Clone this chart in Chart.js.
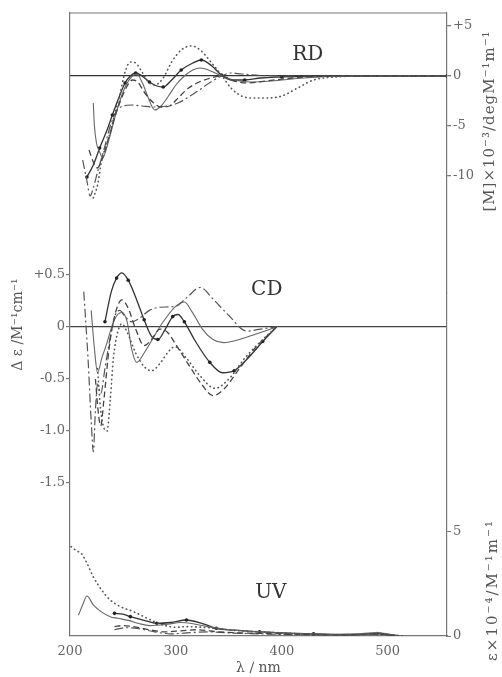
<!DOCTYPE html>
<html>
<head>
<meta charset="utf-8">
<script src="https://cdn.jsdelivr.net/npm/chart.js@4.4.1/dist/chart.umd.min.js"></script>
<style>
  html, body { margin: 0; padding: 0; background: #fff; }
  #wrap { position: relative; width: 502px; height: 677px; }
</style>
</head>
<body>
<div id="wrap"><canvas id="chart"></canvas></div>
<script>
// tick values
const xTicks = [200, 300, 400, 500];
const rdTicks = [5, 0, -5, -10];
const cdTicks = [0.5, 0, -0.5, -1.0, -1.5];
const uvTicks = [0, 5];

// RD: [M] x 10^-3 (wavelength nm, value)
const rdDotted = [[222,-12.2],[226,-10.9],[230,-8.4],[236,-6.4],[242,-3.9],[247,-1.9],[252,0.4],[257,1.4],[262,1.3],[268,0.4],[274,-0.6],[280,-0.9],[288,-0.2],[296,1.4],[305,2.6],[315,3.0],[323,2.6],[333,1.4],[343,0.1],[352,-1.2],[362,-2.0],[372,-2.2],[385,-2.2],[400,-2.0],[415,-1.2],[430,-0.4],[450,-0.1],[480,0],[556,0]];
const rdDotLine = [[216,-10.1],[222,-8.9],[228,-7.2],[235,-5.4],[240,-3.9],[246,-2.2],[252,-0.7],[257,0],[262,0.3],[268,0],[275,-0.6],[282,-1.0],[288,-1.1],[296,-0.4],[305,0.6],[316,1.3],[324,1.6],[334,1.0],[343,0.1],[352,-0.4],[365,-0.4],[380,-0.2],[400,-0.1],[430,0],[556,0]];
const rdSolid = [[222,-2.7],[223,-4.9],[225,-6.7],[228,-7.6],[231,-8.2],[234,-7.4],[238,-5.9],[243,-3.9],[248,-2.2],[253,-0.9],[258,-0.1],[263,0.2],[268,-0.6],[274,-2.2],[280,-3.4],[286,-3.0],[293,-2.0],[300,-0.9],[308,0.0],[316,0.6],[323,0.8],[333,0.5],[343,0],[355,-0.4],[370,-0.6],[390,-0.5],[420,-0.2],[460,0],[556,0]];
const rdDashed = [[218,-7.4],[222,-8.6],[226,-9.2],[230,-8.4],[236,-6.4],[242,-4.2],[248,-2.4],[254,-1.0],[259,-0.4],[264,-0.6],[270,-1.6],[278,-2.6],[286,-3.1],[294,-3.0],[302,-2.2],[312,-1.2],[322,-0.6],[333,-0.2],[343,0],[355,-0.5],[368,-0.7],[385,-0.5],[410,-0.2],[450,0],[556,0]];
const rdDashDot = [[212,-8.4],[216,-10.5],[219,-12.0],[222,-11.2],[226,-9.6],[232,-7.4],[238,-5.0],[244,-3.5],[250,-3.0],[258,-2.9],[268,-3.0],[280,-3.1],[292,-3.0],[302,-2.7],[312,-2.1],[322,-1.4],[333,-0.6],[343,0],[352,0.3],[362,0.2],[380,0.05],[420,0],[556,0]];

// CD: delta epsilon
const cdDotted = [[226,-0.4],[229,-0.8],[232,-0.97],[235,-1.0],[238,-0.7],[241,-0.3],[245,-0.05],[249,0.03],[254,-0.05],[262,-0.25],[270,-0.38],[277,-0.42],[285,-0.35],[292,-0.25],[299,-0.19],[310,-0.3],[322,-0.46],[337,-0.59],[350,-0.5],[365,-0.3],[380,-0.14],[395,0]];
const cdDotLine = [[233,0.05],[239,0.34],[244,0.47],[249,0.52],[255,0.45],[263,0.26],[270,0.07],[277,-0.09],[283,-0.12],[290,-0.02],[297,0.1],[302,0.12],[308,0.05],[318,-0.13],[332,-0.34],[344,-0.44],[355,-0.42],[368,-0.3],[382,-0.14],[395,0]];
const cdSolid = [[220,0.16],[223,-0.2],[226,-0.44],[230,-0.3],[235,-0.15],[240,0.02],[245,0.12],[249,0.14],[254,0.05],[258,-0.2],[263,-0.34],[270,-0.25],[280,-0.08],[288,0.05],[300,0.2],[308,0.24],[315,0.15],[325,-0.02],[335,-0.12],[345,-0.15],[360,-0.12],[375,-0.07],[395,0]];
const cdDashed = [[224,-0.5],[227,-0.85],[229,-0.95],[232,-0.7],[237,-0.2],[242,0.1],[249,0.26],[255,0.18],[262,-0.02],[270,-0.18],[277,-0.12],[285,-0.02],[292,-0.05],[300,-0.17],[315,-0.41],[325,-0.56],[335,-0.66],[345,-0.6],[360,-0.4],[375,-0.2],[395,0]];
const cdDashDot = [[213,0.34],[217,-0.3],[220,-0.9],[222,-1.2],[224,-0.8],[226,-0.55],[229,-0.64],[233,-0.4],[238,-0.1],[243,0.12],[247,0.16],[252,0.1],[258,0.05],[265,0.08],[275,0.16],[285,0.19],[300,0.2],[310,0.28],[323,0.38],[335,0.27],[350,0.11],[367,-0.04],[380,-0.02],[395,0]];

// UV: epsilon x 10^-4
const uvDotted = [[201,4.3],[206,4.1],[211,3.95],[216,3.5],[222,2.85],[230,2.2],[238,1.73],[248,1.4],[260,1.17],[275,0.8],[290,0.5],[300,0.42],[310,0.45],[325,0.42],[340,0.35],[360,0.25],[380,0.2],[400,0.15],[420,0.1],[440,0.08],[460,0.06],[480,0.08],[490,0.12],[500,0.08],[515,0]];
const uvSolid = [[208,1.0],[212,1.5],[216,1.92],[222,1.5],[230,1.15],[238,0.93],[245,0.85],[255,0.75],[265,0.6],[275,0.5],[290,0.55],[305,0.65],[315,0.6],[330,0.45],[350,0.3],[370,0.22],[390,0.18],[410,0.12],[430,0.1],[450,0.08],[470,0.1],[490,0.16],[500,0.1],[512,0]];
const uvDotLine = [[242,1.09],[250,1.05],[257,0.93],[270,0.75],[282,0.61],[295,0.65],[310,0.77],[325,0.6],[338,0.37],[355,0.28],[379,0.2],[400,0.15],[430,0.1],[460,0.06],[490,0.12],[510,0]];
const uvDashed = [[242,0.45],[250,0.5],[260,0.45],[275,0.3],[290,0.2],[305,0.25],[320,0.3],[340,0.2],[360,0.15],[390,0.12],[420,0.08],[460,0.05],[490,0.1],[510,0]];
const uvDashDot = [[242,0.3],[252,0.4],[265,0.35],[280,0.2],[295,0.1],[310,0.15],[330,0.2],[350,0.15],[380,0.1],[420,0.06],[460,0.04],[490,0.08],[505,0]];

const SERIF = "'DejaVu Serif', 'Liberation Serif', serif";

const styles = {
  dotted:  { borderColor: '#555', borderWidth: 1.6, borderDash: [0.5, 3.8], borderCapStyle: 'round' },
  dashed:  { borderColor: '#444', borderWidth: 1.3, borderDash: [6, 3.5] },
  dashdot: { borderColor: '#555', borderWidth: 1.2, borderDash: [9, 3, 2, 3] },
  solid:   { borderColor: '#666', borderWidth: 1.1, borderDash: [] },
  dotline: { borderColor: '#333', borderWidth: 1.3, borderDash: [],
             pointRadius: c => (c.dataIndex % 2 ? 0 : 1.8), pointBackgroundColor: '#222', pointBorderWidth: 0 }
};

function series(points, axis, style) {
  return Object.assign({
    data: points.map(p => ({ x: p[0], y: p[1] })),
    yAxisID: axis,
    pointRadius: 0,
    fill: false,
    cubicInterpolationMode: 'monotone'
  }, styles[style]);
}

const datasets = [
  series(rdDotted, 'yRD', 'dotted'),
  series(rdDashed, 'yRD', 'dashed'),
  series(rdDashDot, 'yRD', 'dashdot'),
  series(rdSolid, 'yRD', 'solid'),
  series(rdDotLine, 'yRD', 'dotline'),
  series(cdDotted, 'yCD', 'dotted'),
  series(cdDashed, 'yCD', 'dashed'),
  series(cdDashDot, 'yCD', 'dashdot'),
  series(cdSolid, 'yCD', 'solid'),
  series(cdDotLine, 'yCD', 'dotline'),
  series(uvDotted, 'yUV', 'dotted'),
  series(uvDashed, 'yUV', 'dashed'),
  series(uvDashDot, 'yUV', 'dashdot'),
  series(uvSolid, 'yUV', 'solid'),
  series(uvDotLine, 'yUV', 'dotline')
];

const tickFont = { family: SERIF, size: 13 };
const fixTicks = vals => scale => { scale.ticks = vals.map(v => ({ value: v })); };
const signed = (v, digits) => (v > 0 ? '+' : '') + (v === 0 ? '0' : v.toFixed(digits));
const zeroGrid = color => c => (c.tick && c.tick.value === 0 ? color : 'rgba(0,0,0,0)');

// panel names and right-hand axis titles
const decor = {
  id: 'decor',
  afterDraw(chart) {
    const { ctx, chartArea: a, scales } = chart;
    ctx.save();
    ctx.strokeStyle = '#777';
    ctx.lineWidth = 1.2;
    ctx.beginPath();
    ctx.moveTo(a.left, a.top);
    ctx.lineTo(a.right, a.top);
    ctx.stroke();

    ctx.fillStyle = '#333';
    ctx.font = '20px ' + SERIF;
    ctx.textAlign = 'center';
    ctx.textBaseline = 'middle';
    const x = scales.x;
    ctx.fillText('RD', x.getPixelForValue(424.5), scales.yRD.getPixelForValue(2.1));
    ctx.fillText('CD', x.getPixelForValue(385.8), scales.yCD.getPixelForValue(0.356));
    ctx.fillText('UV', x.getPixelForValue(389.6), scales.yUV.getPixelForValue(2.07));

    ctx.fillStyle = '#555';
    ctx.font = '15px ' + SERIF;
    const side = (text, cx, cy, spacing) => {
      ctx.save();
      ctx.letterSpacing = spacing;
      ctx.translate(cx, cy);
      ctx.rotate(-Math.PI / 2);
      ctx.fillText(text, 0, 0);
      ctx.restore();
    };
    side('[M]×10⁻³/degM⁻¹m⁻¹', 490, 121, '1px');
    side('ε×10⁻⁴/M⁻¹m⁻¹', 493, 590, '2px');
    ctx.restore();
  }
};

new Chart(document.getElementById('chart'), {
  type: 'line',
  data: { datasets },
  plugins: [decor],
  options: {
    responsive: true,
    maintainAspectRatio: false,
    animation: false,
    layout: { padding: { top: 13, left: 0, right: 0, bottom: 0 } },
    plugins: { legend: { display: false }, tooltip: { enabled: false } },
    scales: {
      x: {
        type: 'linear', position: 'bottom', min: 200, max: 556,
        afterBuildTicks: fixTicks(xTicks),
        afterFit: s => { s.height = 41; },
        grid: { drawOnChartArea: false, drawTicks: false },
        border: { color: '#777', width: 1.2 },
        ticks: { font: tickFont, color: '#666', padding: 8, maxRotation: 0, autoSkip: false },
        title: { display: true, text: 'λ ∕ nm', font: { family: SERIF, size: 14 }, color: '#555', padding: 0 }
      },
      yCD: {
        type: 'linear', position: 'left', min: -2.9712, max: 3.0192,
        afterBuildTicks: fixTicks(cdTicks),
        afterFit: s => { s.width = 70; },
        grid: { color: zeroGrid('#444'), lineWidth: 1.2, tickColor: '#777', tickLength: 4 },
        border: { color: '#777', width: 1.2 },
        ticks: { font: tickFont, color: '#666', padding: 1, callback: v => signed(v, 1) },
        title: { display: true, text: 'Δ ε /M⁻¹cm⁻¹', font: { family: SERIF, size: 14 }, color: '#555', padding: { top: 9.6, bottom: 0 } }
      },
      yRD: {
        type: 'linear', position: 'right', stack: 'right', stackWeight: 280,
        min: -21.7, max: 6.3,
        afterBuildTicks: fixTicks(rdTicks),
        afterFit: s => { s.width = 55; },
        grid: { color: zeroGrid('#333'), lineWidth: 1.3, tickColor: '#777', tickLength: 4 },
        border: { color: '#777', width: 1.2 },
        ticks: { font: tickFont, color: '#666', padding: 2, callback: v => signed(v, 0) }
      },
      yUV: {
        type: 'linear', position: 'right', stack: 'right', stackWeight: 343,
        min: 0, max: 16.49,
        afterBuildTicks: fixTicks(uvTicks),
        afterFit: s => { s.width = 55; },
        grid: { drawOnChartArea: false, tickColor: '#777', tickLength: 4 },
        border: { color: '#777', width: 1.2 },
        ticks: { font: tickFont, color: '#666', padding: 2, callback: v => String(v) }
      }
    }
  }
});
</script>
</body>
</html>
